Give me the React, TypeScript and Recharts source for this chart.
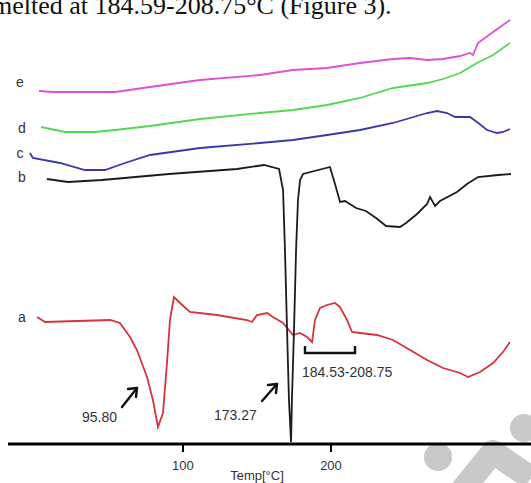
import { LineChart, Line, XAxis, YAxis } from 'recharts';

// temperature (°C) and heat flow (arbitrary units, offset per trace)
const tempTicks = [100, 200];

const aTemp = [1.4, 6.8, 28.4, 50.7, 57.4, 64.2, 68.9, 75.7, 79.7, 83.1, 86.5, 89.2, 91.2, 93.9, 98.0, 104.7, 123.0, 143.2, 146.6, 150.0, 156.8, 160.8, 167.6, 174.3, 179.1, 183.8, 187.2, 189.2, 192.6, 197.3, 202.7, 206.1, 210.8, 214.2, 219.6, 231.1, 241.9, 253.4, 264.9, 275.7, 287.2, 292.6, 300.7, 309.5, 316.2, 320.9];
const aFlow = [12.7, 12.2, 12.3, 12.4, 12.1, 10.7, 9.4, 6.7, 4.4, 1.7, 3.1, 8.1, 12.4, 14.7, 14.1, 13.2, 12.9, 12.4, 12.2, 12.9, 13.1, 12.7, 12.1, 10.9, 11.1, 10.7, 10.2, 12.4, 13.6, 13.9, 14.1, 13.7, 12.4, 11.2, 11.1, 10.9, 10.4, 9.4, 8.4, 7.6, 7.1, 6.7, 7.2, 8.1, 9.2, 10.2];

const bTemp = [8.1, 22.3, 45.3, 90.5, 136.5, 154.7, 164.9, 167.6, 168.9, 170.3, 171.6, 173.0, 173.6, 175.0, 176.4, 177.7, 179.1, 181.1, 199.3, 202.7, 206.1, 209.5, 216.9, 223.6, 230.4, 237.2, 246.6, 250.7, 258.1, 264.9, 266.9, 270.3, 273.6, 285.1, 291.9, 299.3, 312.8, 321.6];
const bFlow = [26.5, 26.2, 26.4, 27.0, 27.5, 27.9, 27.5, 25.4, 19.4, 11.4, 4.4, 0.2, 4.4, 11.4, 19.4, 24.4, 26.4, 27.0, 27.7, 26.0, 24.2, 24.3, 23.6, 23.3, 22.6, 21.8, 21.7, 22.1, 23.0, 24.0, 24.7, 23.8, 24.3, 25.2, 26.0, 26.7, 26.9, 27.0];

const cTemp = [-3.4, -1.4, 16.9, 33.8, 47.3, 60.8, 77.7, 111.5, 152.0, 174.3, 197.3, 219.6, 241.9, 253.4, 264.9, 271.6, 278.4, 283.8, 293.9, 298.6, 305.4, 312.2, 316.2, 320.9];
const cFlow = [29.1, 28.6, 28.1, 27.4, 27.4, 28.1, 28.9, 29.6, 30.1, 30.4, 30.9, 31.4, 32.1, 32.6, 33.1, 33.3, 33.1, 32.7, 32.7, 32.2, 31.4, 31.1, 31.2, 31.5];

const dTemp = [4.1, 20.3, 40.5, 54.1, 77.7, 111.5, 152.0, 174.3, 197.3, 219.6, 241.9, 264.9, 275.7, 287.2, 298.6, 309.5, 320.9];
const dFlow = [31.7, 31.2, 31.2, 31.4, 31.8, 32.5, 33.1, 33.4, 33.9, 34.6, 35.6, 36.1, 36.5, 37.1, 38.1, 38.9, 40.1];

const eTemp = [2.7, 12.2, 54.1, 77.7, 111.5, 152.0, 174.3, 197.3, 219.6, 241.9, 253.4, 264.9, 275.7, 287.2, 293.9, 295.9, 299.3, 309.5, 320.9];
const eFlow = [35.3, 35.2, 35.2, 35.7, 36.4, 36.9, 37.4, 37.6, 38.1, 38.5, 38.6, 38.4, 38.5, 38.8, 39.1, 38.9, 40.1, 41.2, 42.4];

const toPoints = (temps: number[], flows: number[]) =>
    temps.map((t, i) => ({ temp: t, flow: flows[i] }));

const traces = [
    { key: 'a', color: '#d8323e', data: toPoints(aTemp, aFlow) },
    { key: 'b', color: '#1c1c1c', data: toPoints(bTemp, bFlow) },
    { key: 'c', color: '#3a38ac', data: toPoints(cTemp, cFlow) },
    { key: 'd', color: '#52d852', data: toPoints(dTemp, dFlow) },
    { key: 'e', color: '#dc50dc', data: toPoints(eTemp, eFlow) },
];

const sans = 'Liberation Sans, Arial, sans-serif';

export default function App() {
    return (
        <div style={{ position: 'absolute', left: 0, top: 0, width: 531, height: 483, background: '#fff', overflow: 'hidden' }}>
            {/* faint watermark */}
            <svg width={531} height={483} style={{ position: 'absolute', left: 0, top: 0 }}>
                <circle cx={438} cy={457} r={14} fill="#c9c9c9" />
                <circle cx={524} cy={428} r={14} fill="#c9c9c9" />
                <polyline points="462,490 493,452 531,478" fill="none" stroke="#c9c9c9" strokeWidth={24} strokeLinejoin="round" />
            </svg>

            <LineChart
                width={531}
                height={483}
                margin={{ top: 4, right: 0, bottom: 0, left: 8 }}
                style={{ position: 'absolute', left: 0, top: 0 }}
            >
                <XAxis
                    dataKey="temp"
                    type="number"
                    domain={[-18.2, 335.1]}
                    ticks={tempTicks}
                    allowDataOverflow
                    height={39}
                    axisLine={{ stroke: '#000', strokeWidth: 3 }}
                    tickLine={{ stroke: '#000', strokeWidth: 2 }}
                    tickSize={8}
                    tickMargin={9}
                    tick={{ fill: '#333', fontSize: 13, fontFamily: sans }}
                />
                <YAxis hide type="number" domain={[0, 44]} />
                {traces.map((tr) => (
                    <Line
                        key={tr.key}
                        data={tr.data}
                        dataKey="flow"
                        type="linear"
                        stroke={tr.color}
                        strokeWidth={1.8}
                        dot={false}
                        isAnimationActive={false}
                    />
                ))}
            </LineChart>

            <svg width={531} height={483} style={{ position: 'absolute', left: 0, top: 0, pointerEvents: 'none' }}>
                <text x={-8} y={14} fontFamily="Liberation Serif, Times New Roman, serif" fontSize={26} fill="#111">
                    melted at 184.59-208.75°C (Figure 3).
                </text>

                <g fontFamily={sans} fontSize={14} fill="#333" textAnchor="middle">
                    <text x={20} y={87}>e</text>
                    <text x={22} y={133}>d</text>
                    <text x={20} y={158}>c</text>
                    <text x={22} y={182}>b</text>
                    <text x={22} y={322}>a</text>
                </g>

                <g fontFamily={sans} fontSize={14} fill="#333">
                    <text x={82} y={422}>95.80</text>
                    <text x={214} y={420}>173.27</text>
                    <text x={302} y={377}>184.53-208.75</text>
                </g>

                <g stroke="#111" strokeWidth={2.4} fill="none" strokeLinecap="round" strokeLinejoin="round">
                    <line x1={122} y1={407} x2={137} y2={388} />
                    <polyline points="128,389 137,388 136,397" />
                    <line x1={262} y1={401} x2={277} y2={384} />
                    <polyline points="268,385 277,384 276,393" />
                    <polyline points="305,346 305,353 355,353 355,346" strokeLinecap="butt" strokeLinejoin="miter" />
                </g>

                <text x={257} y={480} fontFamily={sans} fontSize={13} fill="#333" textAnchor="middle">
                    Temp[°C]
                </text>
            </svg>
        </div>
    );
}
